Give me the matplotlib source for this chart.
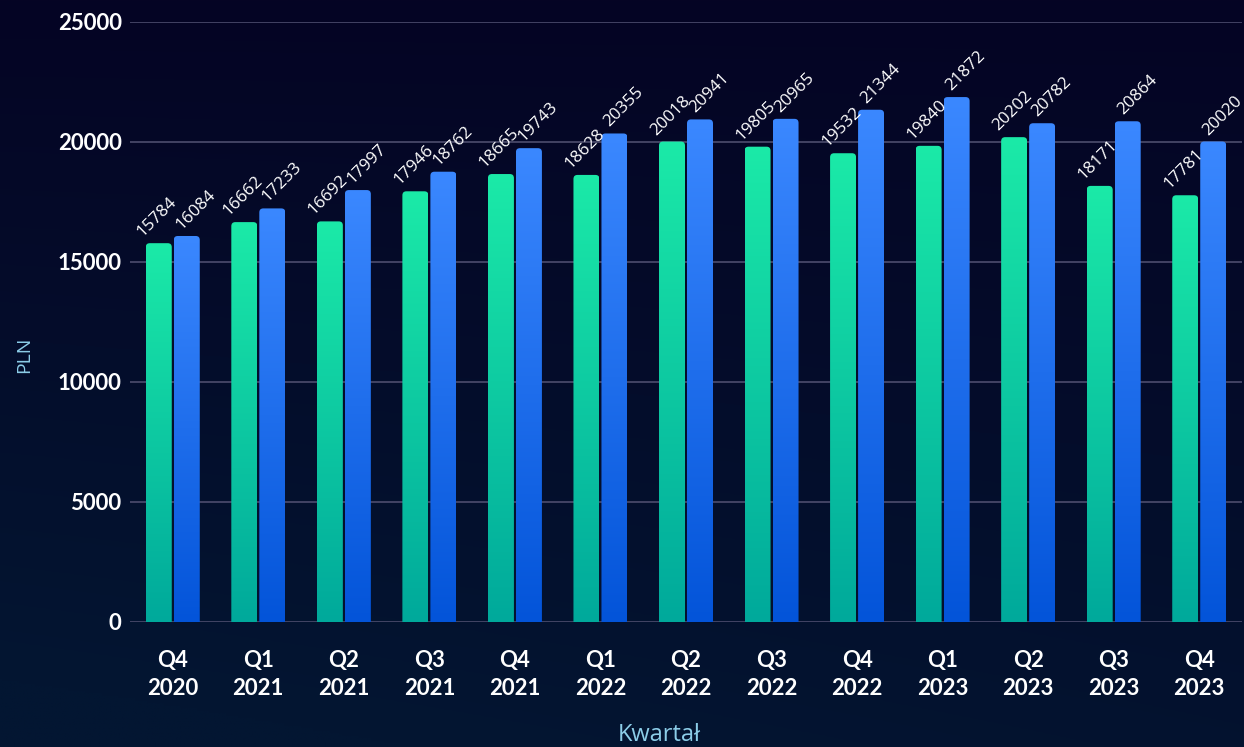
import numpy as np
import matplotlib
matplotlib.use("Agg")
import matplotlib.pyplot as plt
from matplotlib.patches import FancyBboxPatch
from matplotlib.colors import LinearSegmentedColormap

quarters = ["Q4\n2020", "Q1\n2021", "Q2\n2021", "Q3\n2021", "Q4\n2021",
            "Q1\n2022", "Q2\n2022", "Q3\n2022", "Q4\n2022",
            "Q1\n2023", "Q2\n2023", "Q3\n2023", "Q4\n2023"]
green_vals = [15784, 16662, 16692, 17946, 18665, 18628, 20018, 19805,
              19532, 19840, 20202, 18171, 17781]
blue_vals = [16084, 17233, 17997, 18762, 19743, 20355, 20941, 20965,
             21344, 21872, 20782, 20864, 20020]
y_ticks = [0, 5000, 10000, 15000, 20000, 25000]

W, H = 1244, 747
fig = plt.figure(figsize=(W / 100, H / 100), dpi=100)

# background gradient
bg = fig.add_axes([0, 0, 1, 1], zorder=-10)
yy, xx = np.mgrid[0:1:300j, 0:1:300j]
t = np.clip(0.8 * yy + 0.3 * (1 - xx) * yy, 0, 1)
top = np.array([5, 4, 36]) / 255
bot = np.array([3, 22, 50]) / 255
img = top[None, None, :] * (1 - t[..., None]) + bot[None, None, :] * t[..., None]
bg.imshow(img, extent=(0, 1, 0, 1), aspect="auto", origin="upper")
bg.set_axis_off()

ax_l, ax_r, ax_b, ax_t = 130, 1242, 622, 22
ax = fig.add_axes([ax_l / W, 1 - ax_b / H, (ax_r - ax_l) / W, (ax_b - ax_t) / H])
ax.set_facecolor("none")

n = len(quarters)
px_x = (ax_r - ax_l) / n          # px per category
px_y = (ax_b - ax_t) / 25000      # px per data unit
bw = 26 / px_x
off = 14 / px_x
r = 4 / px_x
aspect = (1 / px_y) / (1 / px_x)

cmap_g = LinearSegmentedColormap.from_list("g", ["#00a99b", "#1beaa8"])
cmap_b = LinearSegmentedColormap.from_list("b", ["#0354d9", "#3b88ff"])
grad = np.linspace(1, 0, 256).reshape(-1, 1)

def draw_bar(xc, v, cmap):
    x0 = xc - bw / 2
    patch = FancyBboxPatch((x0, -400), bw, v + 400,
                           boxstyle=f"round,pad=0,rounding_size={r}",
                           mutation_aspect=aspect, facecolor="none",
                           edgecolor="none", zorder=2)
    ax.add_patch(patch)
    im = ax.imshow(grad, extent=(x0, x0 + bw, 0, v), aspect="auto",
                   cmap=cmap, vmin=0, vmax=1, zorder=2, origin="upper")
    im.set_clip_path(patch)

x = np.arange(n)
for i in range(n):
    draw_bar(x[i] - off, green_vals[i], cmap_g)
    draw_bar(x[i] + off, blue_vals[i], cmap_b)
    ax.annotate(str(green_vals[i]), xy=(x[i] - off, green_vals[i]),
                xytext=(-16, 6), textcoords="offset pixels", rotation=45,
                rotation_mode="anchor", ha="left", va="baseline",
                color="white", fontsize=12.3, family="Open Sans", zorder=5)
    ax.annotate(str(blue_vals[i]), xy=(x[i] + off, blue_vals[i]),
                xytext=(-5, 6), textcoords="offset pixels", rotation=45,
                rotation_mode="anchor", ha="left", va="baseline",
                color="white", fontsize=12.3, family="Open Sans", zorder=5)

ax.set_xlim(-0.5, n - 0.5)
ax.set_ylim(0, 25000)
ax.set_yticks(y_ticks)
ax.set_yticklabels([str(v) for v in y_ticks])
ax.set_xticks(x)
ax.set_xticklabels(quarters, linespacing=1.45)
ax.yaxis.grid(True, color="#4d4d6e", linewidth=1.2, zorder=0)
ax.set_axisbelow(True)
for s in ax.spines.values():
    s.set_visible(False)
ax.tick_params(axis="both", length=0, colors="white")
ax.tick_params(axis="y", pad=6)
ax.tick_params(axis="x", pad=20)
for lab in ax.get_yticklabels():
    lab.set_fontfamily("Lato")
    lab.set_fontweight("bold")
    lab.set_fontsize(16)
for lab in ax.get_xticklabels():
    lab.set_fontfamily("Lato")
    lab.set_fontweight("bold")
    lab.set_fontsize(16)

fig.text(24 / W, 1 - 355 / H, "PLN", rotation=90, color="#8ccde8",
         fontsize=14, family="Open Sans", ha="center", va="center")
fig.text(659 / W, 1 - 735 / H, "Kwartał", color="#8ccde8",
         fontsize=17, family="Open Sans", ha="center", va="center")

fig.savefig("out.png", dpi=100)
